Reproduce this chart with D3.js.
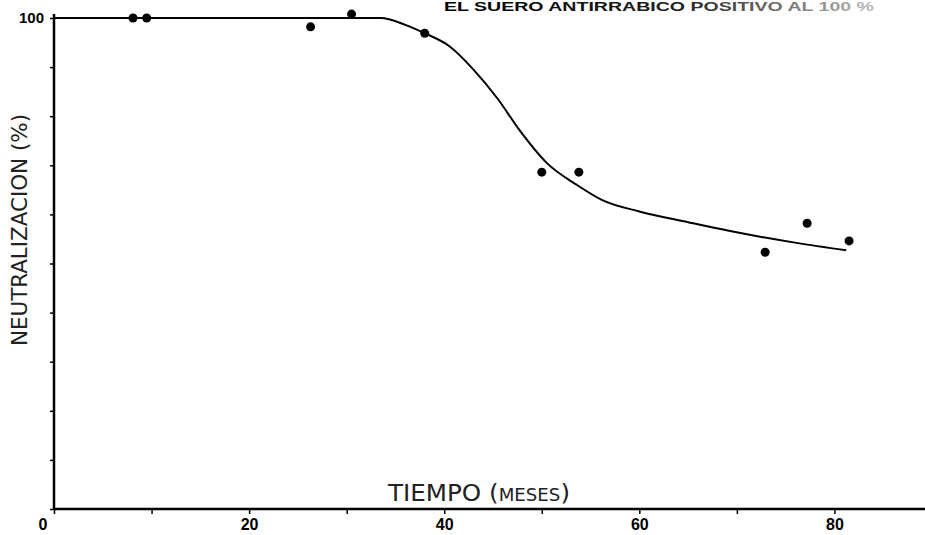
<!DOCTYPE html>
<html>
<head>
<meta charset="utf-8">
<script src="https://cdn.jsdelivr.net/npm/d3@7"></script>
<style>
  body { margin: 0; background: #fff; }
  svg { display: block; }
</style>
</head>
<body>
<script>
// observed points (months, % neutralization)
var months = [8.1, 9.5, 26.3, 30.5, 38.0, 50.0, 53.8, 72.9, 77.2, 81.5];
var neutral = [100, 100, 98.2, 100.8, 96.9, 68.6, 68.6, 52.3, 58.2, 54.6];

// hand drawn fitted curve
var curveX = [0, 33.5, 36, 38, 40.5, 43, 45.5, 47.7, 50.5, 53.6, 56.2, 60, 65, 69.3, 76.1, 81.2];
var curveY = [100, 100, 98.6, 96.9, 94.3, 89.5, 83.5, 77.2, 70.5, 66, 62.9, 60.6, 58.4, 56.6, 54.2, 52.7];

var xTicks = [0, 10, 20, 30, 40, 50, 60, 70, 80];
var xLabels = [20, 40, 60, 80];
var yTicks = [0, 10, 20, 30, 40, 50, 60, 70, 80, 90, 100];

var width = 925, height = 535;

var svg = d3.select('body').append('svg')
  .attr('width', width)
  .attr('height', height);

var x = d3.scaleLinear().domain([0, 90]).range([54, 932]);
var y = d3.scaleLinear().domain([0, 100]).range([509, 18]);

// heading at top of the scan (cut by the page edge in the original)
var grad = svg.append('defs').append('linearGradient')
  .attr('id', 'fade').attr('x1', '0').attr('x2', '1');
grad.append('stop').attr('offset', '0%').attr('stop-color', '#000');
grad.append('stop').attr('offset', '55%').attr('stop-color', '#222');
grad.append('stop').attr('offset', '100%').attr('stop-color', '#bbb');
svg.append('text')
  .attr('x', 444).attr('y', 11)
  .attr('font-family', 'Liberation Sans, Arial, sans-serif')
  .attr('font-weight', 'bold')
  .attr('font-size', 12)
  .attr('textLength', 430)
  .attr('lengthAdjust', 'spacingAndGlyphs')
  .attr('fill', 'url(#fade)')
  .text('EL SUERO ANTIRRABICO POSITIVO AL 100 %');

// x axis
var xAxis = d3.axisBottom(x)
  .tickValues(xTicks)
  .tickSize(5)
  .tickPadding(5)
  .tickFormat(function(d) { return xLabels.indexOf(d) >= 0 ? d : ''; });
var gx = svg.append('g')
  .attr('transform', 'translate(0,' + y(0) + ')')
  .call(xAxis);
gx.select('.domain').remove();
gx.append('line')
  .attr('x1', x(0)).attr('x2', width)
  .attr('stroke', '#000').attr('stroke-width', 2.5);
gx.selectAll('.tick line').attr('stroke-width', 1.5);
gx.selectAll('.tick text')
  .attr('fill', '#000')
  .attr('font-family', 'Liberation Sans, Arial, sans-serif')
  .attr('font-weight', 'bold')
  .attr('font-size', 16);

// origin label
svg.append('text')
  .attr('x', 43).attr('y', 530)
  .attr('text-anchor', 'middle')
  .attr('font-family', 'Liberation Sans, Arial, sans-serif')
  .attr('font-weight', 'bold')
  .attr('font-size', 16)
  .text('0');

// y axis
var yAxis = d3.axisLeft(y)
  .tickValues(yTicks)
  .tickSize(4)
  .tickPadding(6)
  .tickFormat(function(d) { return d === 100 ? d : ''; });
var gy = svg.append('g')
  .attr('transform', 'translate(' + x(0) + ',0)')
  .call(yAxis);
gy.select('.domain').remove();
gy.append('line')
  .attr('y1', y(100) - 4).attr('y2', y(0) + 1)
  .attr('stroke', '#000').attr('stroke-width', 2.5);
gy.selectAll('.tick line').attr('stroke-width', 1.5);
gy.selectAll('.tick text')
  .attr('fill', '#000')
  .attr('font-family', 'Liberation Sans, Arial, sans-serif')
  .attr('font-weight', 'bold')
  .attr('font-size', 15);

// axis titles
svg.append('text')
  .attr('transform', 'translate(27,230) rotate(-90)')
  .attr('text-anchor', 'middle')
  .attr('font-family', 'DejaVu Sans Condensed, Liberation Sans Narrow, sans-serif')
  .attr('font-weight', 300)
  .attr('font-size', 21)
  .attr('textLength', 232)
  .attr('lengthAdjust', 'spacingAndGlyphs')
  .attr('fill', '#222')
  .text('NEUTRALIZACION (%)');

var xt = svg.append('text')
  .attr('x', 388).attr('y', 501)
  .attr('font-family', 'DejaVu Sans Condensed, Liberation Sans Narrow, sans-serif')
  .attr('font-weight', 300)
  .attr('font-size', 23)
  .attr('textLength', 182)
  .attr('lengthAdjust', 'spacingAndGlyphs')
  .attr('fill', '#222');
xt.append('tspan').text('TIEMPO (');
xt.append('tspan').attr('font-size', 17).text('MESES');
xt.append('tspan').text(')');

// fitted curve
var curvePts = d3.zip(curveX, curveY);
svg.append('path')
  .datum(curvePts)
  .attr('fill', 'none')
  .attr('stroke', '#000')
  .attr('stroke-width', 2)
  .attr('d', d3.line()
    .x(function(d) { return x(d[0]); })
    .y(function(d) { return y(d[1]); })
    .curve(d3.curveMonotoneX));

// observed points
svg.selectAll('circle.pt')
  .data(d3.zip(months, neutral))
  .enter()
  .append('circle')
  .attr('class', 'pt')
  .attr('cx', function(d) { return x(d[0]); })
  .attr('cy', function(d) { return y(d[1]); })
  .attr('r', 4.5)
  .attr('fill', '#000');
</script>
</body>
</html>
